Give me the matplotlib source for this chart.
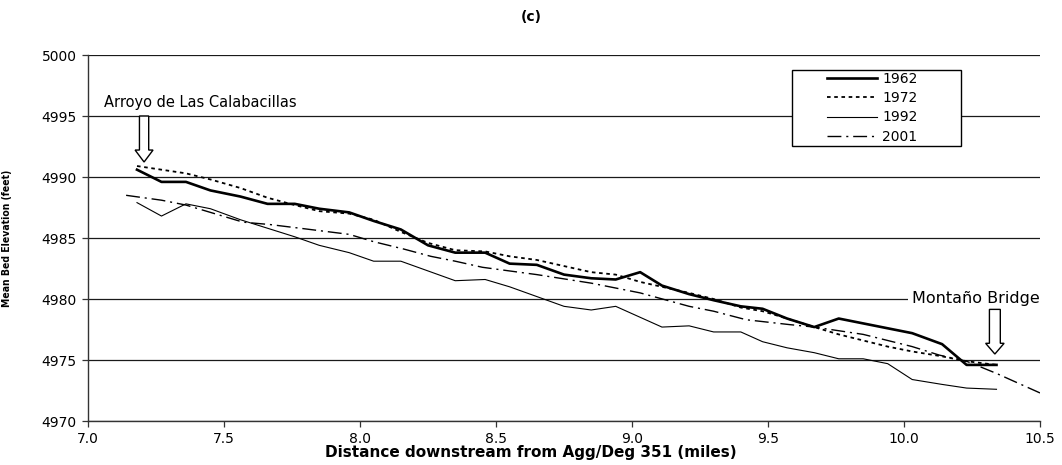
import matplotlib
matplotlib.use("Agg")
import matplotlib.pyplot as plt
from matplotlib.patches import FancyArrow, Rectangle

# Mean bed elevation along the reach, surveyed at the agg/deg lines
miles = [7.18, 7.27, 7.36, 7.45, 7.56, 7.66, 7.76, 7.85, 7.96, 8.05, 8.15, 8.25,
         8.35, 8.46, 8.55, 8.65, 8.75, 8.85, 8.94, 9.03, 9.11, 9.21, 9.30, 9.40,
         9.48, 9.57, 9.67, 9.76, 9.85, 9.94, 10.03, 10.14, 10.23, 10.34]

elev_1962 = [4990.6, 4989.6, 4989.6, 4988.9, 4988.4, 4987.8, 4987.8, 4987.4, 4987.1,
             4986.4, 4985.7, 4984.4, 4983.8, 4983.8, 4982.9, 4982.8, 4982.0, 4981.7,
             4981.6, 4982.2, 4981.1, 4980.4, 4979.9, 4979.4, 4979.2, 4978.4, 4977.7,
             4978.4, 4978.0, 4977.6, 4977.2, 4976.3, 4974.6, 4974.6]

elev_1972 = [4990.9, 4990.6, 4990.3, 4989.8, 4989.1, 4988.3, 4987.7, 4987.2, 4987.0,
             4986.5, 4985.5, 4984.6, 4984.0, 4983.9, 4983.5, 4983.2, 4982.7, 4982.2,
             4982.0, 4981.4, 4981.0, 4980.5, 4980.0, 4979.3, 4979.0, 4978.4, 4977.7,
             4977.1, 4976.6, 4976.1, 4975.7, 4975.3, 4974.9, 4974.6]

elev_1992 = [4987.9, 4986.8, 4987.8, 4987.4, 4986.5, 4985.8, 4985.1, 4984.4, 4983.8,
             4983.1, 4983.1, 4982.3, 4981.5, 4981.6, 4981.0, 4980.2, 4979.4, 4979.1,
             4979.4, 4978.5, 4977.7, 4977.8, 4977.3, 4977.3, 4976.5, 4976.0, 4975.6,
             4975.1, 4975.1, 4974.7, 4973.4, 4973.0, 4972.7, 4972.6]

# 2001 survey covers a slightly longer reach
miles_2001 = [7.14, 7.27, 7.36, 7.57, 7.67, 7.78, 7.96, 8.05, 8.16, 8.26, 8.35, 8.45,
              8.65, 8.85, 9.03, 9.21, 9.30, 9.42, 9.58, 9.67, 9.76, 9.85, 10.03, 10.13,
              10.23, 10.34, 10.50]
elev_2001 = [4988.5, 4988.1, 4987.7, 4986.3, 4986.1, 4985.8, 4985.3, 4984.7, 4984.1,
             4983.5, 4983.1, 4982.6, 4982.0, 4981.3, 4980.5, 4979.4, 4979.0, 4978.3,
             4977.9, 4977.7, 4977.4, 4977.1, 4976.1, 4975.4, 4974.9, 4973.9, 4972.3]

x_ticks = [7.0, 7.5, 8.0, 8.5, 9.0, 9.5, 10.0, 10.5]
y_ticks = [4970, 4975, 4980, 4985, 4990, 4995, 5000]

fig = plt.figure(figsize=(10.62, 4.65), dpi=100)
ax = fig.add_axes([0.0829, 0.0946, 0.8964, 0.7871])

ax.plot(miles, elev_1962, color="black", lw=1.9, label="1962", zorder=2.4)
ax.plot(miles, elev_1972, color="black", lw=1.3, ls=(0, (2, 2)), label="1972", zorder=2.3)
ax.plot(miles, elev_1992, color="black", lw=0.8, label="1992", zorder=2.2)
ax.plot(miles_2001, elev_2001, color="black", lw=1.0, ls=(0, (10, 3.5, 1.5, 3.5)),
        label="2001", zorder=2.1)

ax.set_xlim(7.0, 10.5)
ax.set_ylim(4970, 5000)
ax.set_xticks(x_ticks)
ax.set_xticklabels([f"{t:.1f}" for t in x_ticks])
ax.set_yticks(y_ticks)

ax.set_axisbelow(True)
ax.yaxis.grid(True, color="#1a1a1a", lw=0.9)
for side in ["top", "right"]:
    ax.spines[side].set_visible(False)
for side in ["left", "bottom"]:
    ax.spines[side].set_color("#333333")
    ax.spines[side].set_linewidth(1.0)
ax.tick_params(direction="out", length=4, width=0.9, labelsize=10, pad=4,
               color="#333333")

ax.set_ylabel("Mean Bed Elevation (feet)", fontsize=7.5, fontweight="bold",
              fontstretch="condensed")
ax.yaxis.set_label_coords(-0.08, 0.5)

fig.text(0.5, 1 - 17 / 465, "(c)", ha="center", va="center",
         fontsize=10, fontweight="bold")
fig.text(0.5, 1 - 452 / 465, "Distance downstream from Agg/Deg 351 (miles)",
         ha="center", va="center", fontsize=11, fontweight="bold")

# legend box drawn separately so it can be wider than its entries
ax.add_patch(Rectangle((0.7395, 0.7514), 0.1775, 0.2077, transform=ax.transAxes,
                       facecolor="white", edgecolor="black", lw=1.0, zorder=3))
ax.legend(loc="upper left", bbox_to_anchor=(0.776, 0.954), frameon=False,
          borderpad=0, borderaxespad=0, handlelength=3.6, handletextpad=0.4,
          labelspacing=0.38, fontsize=10).set_zorder(4)

# reach limits
ax.text(7.059, 4996.07, "Arroyo de Las Calabacillas", ha="left", va="center",
        fontsize=10.5)
ax.add_patch(FancyArrow(7.206, 4995.0, 0, -3.77, width=0.034, head_width=0.066,
                        head_length=0.98, length_includes_head=True,
                        facecolor="white", edgecolor="black", lw=1.0, zorder=3))

ax.text(10.029, 4980.08, "Montaño Bridge", ha="left", va="center", fontsize=11.5,
        clip_on=False, zorder=3,
        bbox=dict(facecolor="white", edgecolor="none", pad=3))
ax.add_patch(FancyArrow(10.334, 4979.15, 0, -3.66, width=0.040, head_width=0.068,
                        head_length=0.88, length_includes_head=True,
                        facecolor="white", edgecolor="black", lw=1.0, zorder=3))

fig.savefig("out.png", dpi=100)
